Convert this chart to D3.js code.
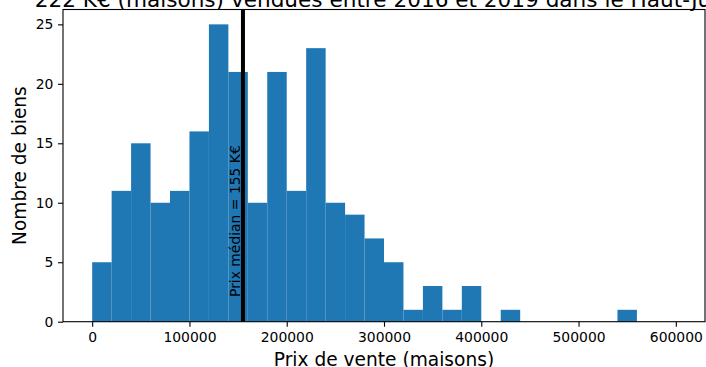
<!DOCTYPE html>
<html lang="fr">
<head>
<meta charset="UTF-8">
<title>Prix de vente (maisons)</title>
<script src="https://d3js.org/d3.v7.min.js"></script>
<style>
    body { margin: 0; background: #fff; }
    text { font-family: "DejaVu Sans", sans-serif; fill: #000; }
</style>
</head>
<body>
<div id="chart"></div>
<script>
    // Histogram data (bins of 20 000 EUR)
    const binStarts = [0, 20000, 40000, 60000, 80000, 100000, 120000, 140000, 160000, 180000,
                       200000, 220000, 240000, 260000, 280000, 300000, 320000, 340000, 360000, 380000,
                       400000, 420000, 440000, 460000, 480000, 500000, 520000, 540000, 560000, 580000];
    const counts = [5, 11, 15, 10, 11, 16, 25, 21, 10, 21,
                    11, 23, 10, 9, 7, 5, 1, 3, 1, 3,
                    0, 1, 0, 0, 0, 0, 0, 1, 0, 0];
    const binWidth = 20000;
    const medianPrice = 155000;
    const xTicks = [0, 100000, 200000, 300000, 400000, 500000, 600000];
    const yTicks = [0, 5, 10, 15, 20, 25];

    const W = 706, H = 367;
    const plot = { left: 63, right: 705, top: 9.5, bottom: 321.7 };

    const svg = d3.select("#chart").append("svg")
        .attr("width", W)
        .attr("height", H);

    const x = d3.scaleLinear().domain([-30000, 630000]).range([plot.left, plot.right]);
    const y = d3.scaleLinear().domain([0, 26.25]).range([plot.bottom, plot.top]);

    const bins = binStarts.map((s, i) => ({ x0: s, x1: s + binWidth, n: counts[i] }));

    // bars
    svg.append("g").selectAll("rect")
        .data(bins.filter(d => d.n > 0))
        .enter().append("rect")
        .attr("x", d => x(d.x0))
        .attr("y", d => y(d.n))
        .attr("width", d => x(d.x1) - x(d.x0))
        .attr("height", d => y(0) - y(d.n))
        .attr("fill", "#1f77b4");

    // median line + label
    svg.append("line")
        .attr("x1", x(medianPrice)).attr("x2", x(medianPrice))
        .attr("y1", plot.top).attr("y2", plot.bottom)
        .attr("stroke", "#000")
        .attr("stroke-width", 4);

    svg.append("text")
        .attr("transform", `translate(${x(medianPrice) - 2.8},297) rotate(-90)`)
        .style("font-size", "13.9px")
        .text("Prix médian = " + medianPrice / 1000 + " K€");

    // axes
    const xAxis = svg.append("g")
        .attr("transform", `translate(0,${plot.bottom})`)
        .call(d3.axisBottom(x).tickValues(xTicks).tickFormat(d3.format("d")).tickSize(5).tickPadding(5.5));
    const yAxis = svg.append("g")
        .attr("transform", `translate(${plot.left},0)`)
        .call(d3.axisLeft(y).tickValues(yTicks).tickSize(5).tickPadding(4.7));

    [xAxis, yAxis].forEach(g => {
        g.select(".domain").remove();
        g.selectAll(".tick line").attr("stroke", "#000").attr("stroke-width", 1.1);
        g.selectAll(".tick text")
            .style("font-family", "DejaVu Sans")
            .style("font-size", "13.9px")
            .attr("fill", "#000");
    });

    // frame
    svg.append("rect")
        .attr("x", plot.left).attr("y", plot.top)
        .attr("width", plot.right - plot.left)
        .attr("height", plot.bottom - plot.top)
        .attr("fill", "none")
        .attr("stroke", "#000")
        .attr("stroke-width", 1.1);

    // labels
    svg.append("text")
        .attr("x", (plot.left + plot.right) / 2)
        .attr("y", 365.5)
        .attr("text-anchor", "middle")
        .style("font-size", "18.6px")
        .text("Prix de vente (maisons)");

    svg.append("text")
        .attr("transform", `translate(26.4,${(plot.top + plot.bottom) / 2}) rotate(-90)`)
        .attr("text-anchor", "middle")
        .style("font-size", "18.6px")
        .text("Nombre de biens");

    svg.append("text")
        .attr("x", (plot.left + plot.right) / 2)
        .attr("y", 7)
        .attr("text-anchor", "middle")
        .style("font-size", "21.6px")
        .text("222 K€ (maisons) vendues entre 2016 et 2019 dans le Haut-Jura");
</script>
</body>
</html>
